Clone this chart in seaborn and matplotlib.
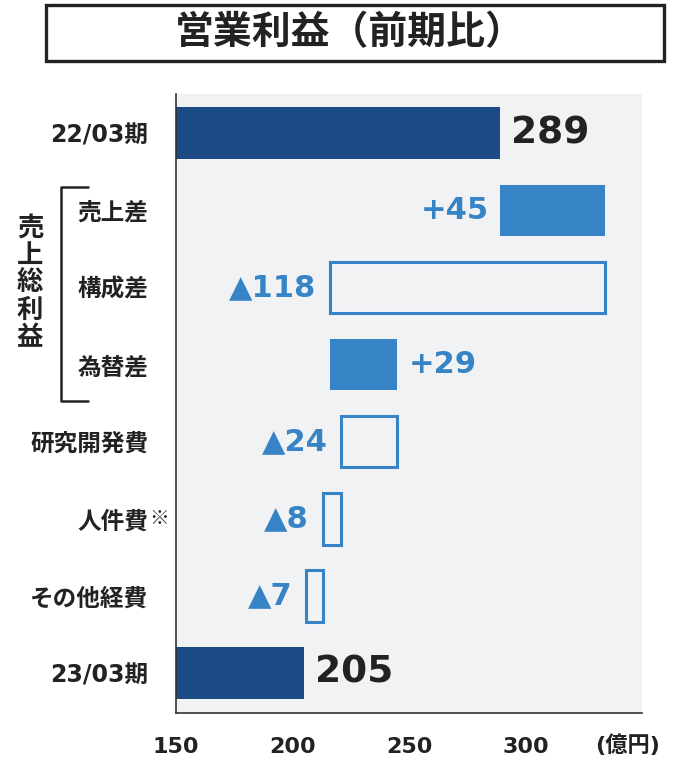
import numpy as np
import pandas as pd
import matplotlib
matplotlib.use("Agg")
import matplotlib.pyplot as plt
import matplotlib.transforms as mtransforms
import seaborn as sns
from matplotlib.lines import Line2D
from matplotlib.patches import Rectangle

# --- data -------------------------------------------------------------
CATEGORIES = ["22/03期", "売上差", "構成差", "為替差",
              "研究開発費", "人件費", "その他経費", "23/03期"]
START_TOTAL = 289
DELTAS      = [45, -118, 29, -24, -8, -7]
END_TOTAL   = 205
X_TICKS     = [150, 200, 250, 300, 350]
X_TICKLABELS = ["150", "200", "250", "300", ""]
X_MIN, X_MAX = 150, 350

# which side of the bar each value label sits on
LABEL_SIDE = ["right", "left", "left", "right", "left", "left", "left", "right"]

NAVY = "#1b4a85"
BLUE = "#3683c6"
BG   = "#f1f2f4"
INK  = "#222222"

W, H = 677, 760

sns.set_theme(style="white")
plt.rcParams["font.family"] = ["DejaVu Sans", "Noto Sans CJK JP"]
CJK = ["Noto Sans CJK JP", "DejaVu Sans"]

# waterfall table
rows = [dict(cat=CATEGORIES[0], left=X_MIN, width=START_TOTAL - X_MIN,
             kind="total", value=START_TOTAL)]
level = START_TOTAL
for cat, d in zip(CATEGORIES[1:-1], DELTAS):
    new = level + d
    rows.append(dict(cat=cat, left=min(level, new), width=abs(d),
                     kind="up" if d > 0 else "down", value=d))
    level = new
rows.append(dict(cat=CATEGORIES[-1], left=X_MIN, width=END_TOTAL - X_MIN,
                 kind="total", value=END_TOTAL))
df = pd.DataFrame(rows)

fig = plt.figure(figsize=(W / 100, H / 100), dpi=100)
ax = fig.add_axes([176 / W, 1 - 713 / H, 466 / W, 619 / H])
ax.set_facecolor(BG)

for i, r in df.iterrows():
    if r.kind == "total":
        style = dict(color=NAVY, linewidth=0)
    elif r.kind == "up":
        style = dict(color=BLUE, linewidth=0)
    else:
        style = dict(color=BLUE, fill=False, linewidth=2.2)
    sns.barplot(data=df.iloc[[i]], x="width", y="cat", order=CATEGORIES,
                orient="y", left=r.left, width=0.67, errorbar=None,
                saturation=1, ax=ax, **style)

    if r.kind == "total":
        txt, col, fs = f"{r.value}", INK, 27
    elif r.kind == "up":
        txt, col, fs = f"+{r.value}", BLUE, 22
    else:
        txt, col, fs = f"▲{-r.value}", BLUE, 22
    if LABEL_SIDE[i] == "right":
        ax.annotate(txt, (r.left + r.width, i), xytext=(8, 0),
                    textcoords="offset points", ha="left", va="center",
                    fontsize=fs, fontweight="bold", color=col)
    else:
        gap = -8 if r.kind == "up" else -10
        ax.annotate(txt, (r.left, i), xytext=(gap, 0),
                    textcoords="offset points", ha="right", va="center",
                    fontsize=fs, fontweight="bold", color=col)

ax.set_xlim(X_MIN, X_MAX)
ax.set_ylim(7.52, -0.51)
ax.set_xticks(X_TICKS)
ax.set_xticklabels(X_TICKLABELS)
ax.set_xlabel(""); ax.set_ylabel("")
ax.tick_params(axis="x", direction="in", length=7, width=1.2, color="#333333",
               pad=17, labelsize=16, labelcolor=INK)
ax.tick_params(axis="y", length=0, pad=20, labelsize=17, labelcolor=INK)
for lab in ax.get_xticklabels() + ax.get_yticklabels():
    lab.set_fontweight("bold")
sns.despine(ax=ax)
for side in ["left", "bottom"]:
    ax.spines[side].set_color("#333333")
    ax.spines[side].set_linewidth(1.2)

# ※ after 人件費
trans = mtransforms.blended_transform_factory(ax.transAxes, ax.transData)
ax.text((149 - 176) / 466, CATEGORIES.index("人件費"), "※", transform=trans,
        ha="left", va="center", fontsize=14, color=INK, family=CJK)

# unit label
fig.text(628 / W, 1 - 745 / H, "(億円)", ha="center", va="center",
         fontsize=16, fontweight="bold", color=INK)

# bracket + vertical group label
bx = [88 / W, 61 / W, 61 / W, 88 / W]
by = [1 - 187 / H, 1 - 187 / H, 1 - 401 / H, 1 - 401 / H]
fig.add_artist(Line2D(bx, by, transform=fig.transFigure, color=INK,
                      linewidth=1.8, solid_joinstyle="round"))
fig.text(30 / W, 1 - 283 / H, "\n".join("売上総利益"), ha="center", va="center",
         fontsize=19, fontweight="bold", color=INK, linespacing=1.02,
         family=CJK)

# title in a box
fig.add_artist(Rectangle((46 / W, 1 - 61 / H), 618 / W, 56 / H,
                         transform=fig.transFigure, fill=False,
                         edgecolor=INK, linewidth=2.4))
fig.text(350 / W, 1 - 33 / H, "営業利益（前期比）", ha="center", va="center",
         fontsize=28, fontweight="bold", color=INK, family=CJK)

fig.savefig("out.png", dpi=100)
